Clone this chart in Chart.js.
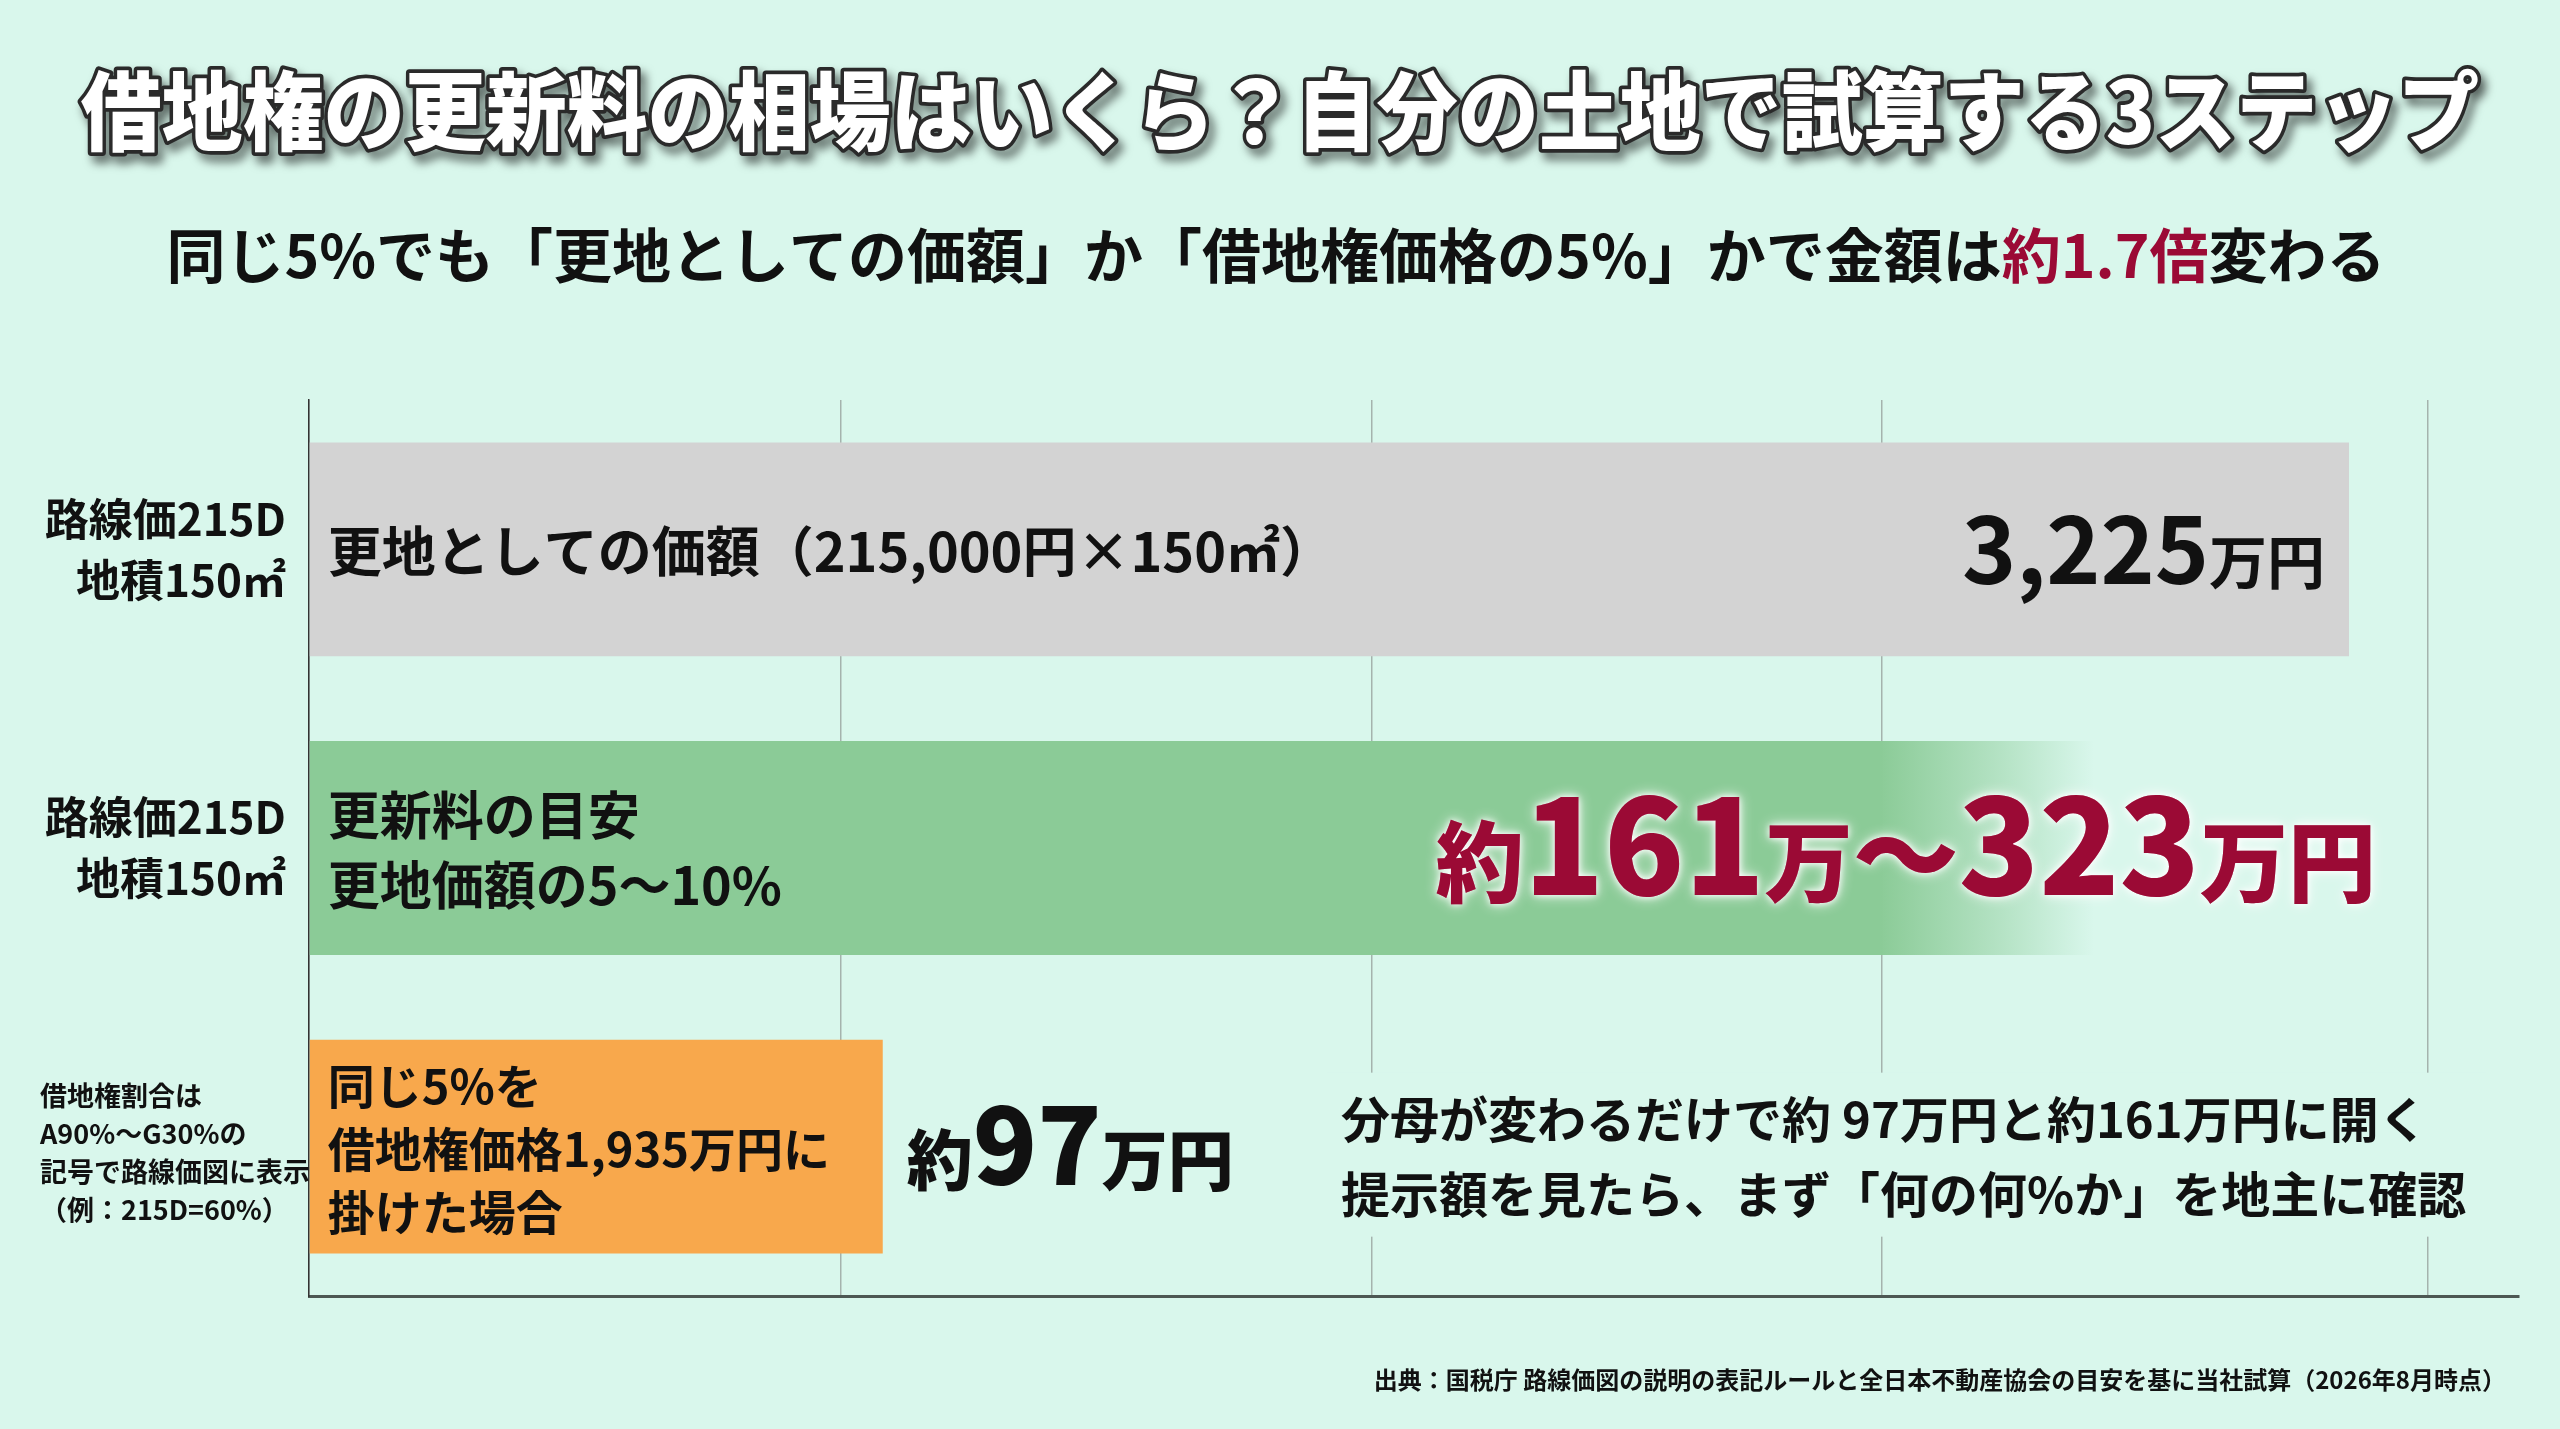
<!DOCTYPE html>
<html lang="ja">
<head>
<meta charset="UTF-8">
<title>借地権の更新料の相場はいくら？</title>
<script src="https://cdn.jsdelivr.net/npm/chart.js@4"></script>
<style>
  html, body { margin: 0; padding: 0; background: #d9f7ec; }
  #wrap { width: 2560px; height: 1429px; position: relative; }
</style>
</head>
<body>
<div id="wrap"><canvas id="chart"></canvas></div>
<script>
// ---- data ----
const titleText = '借地権の更新料の相場はいくら？自分の土地で試算する3ステップ';
const subtitleParts = ['同じ5%でも「更地としての価額」か「借地権価格の5%」かで金額は', '約1.7倍', '変わる'];
const categories = [
  ['路線価215D', '地積150㎡'],
  ['路線価215D', '地積150㎡'],
  ['借地権割合は', 'A90%〜G30%の', '記号で路線価図に表示', '（例：215D=60%）']
];
// bar lengths on the (unlabelled) horizontal scale
const barLengths = [96, 84, 27];
// positions of the vertical guide lines on that scale
const gridValues = [0, 25, 50, 74, 99.7];
const barTexts = [
  ['更地としての価額（215,000円×150㎡）'],
  ['更新料の目安', '更地価額の5〜10%'],
  ['同じ5%を', '借地権価格1,935万円に', '掛けた場合']
];
const valueTexts = ['3,225万円', '約161万〜323万円', '約97万円'];
const noteLines = ['分母が変わるだけで約 97万円と約161万円に開く', '提示額を見たら、まず「何の何%か」を地主に確認'];
const sourceText = '出典：国税庁 路線価図の説明の表記ルールと全日本不動産協会の目安を基に当社試算（2026年8月時点）';

// ---- style ----
const FF = '"Noto Sans CJK JP", "Noto Sans", sans-serif';
const BG = '#d9f7ec';
const RED = '#9b0a35';
const INK = '#111111';

function greenFill(chart) {
  const xs = chart.scales.x;
  if (!xs) return '#8bcb97';
  const x0 = xs.getPixelForValue(0);
  const x1 = xs.getPixelForValue(barLengths[1]);
  const g = chart.ctx.createLinearGradient(x0, 0, x1, 0);
  g.addColorStop(0, 'rgba(139,203,151,1)');
  g.addColorStop(0.88, 'rgba(139,203,151,1)');
  g.addColorStop(0.95, 'rgba(139,203,151,0.45)');
  g.addColorStop(1, 'rgba(139,203,151,0)');
  return g;
}

// split a value string into digit / tilde / other runs
function tokens(str) {
  return str.match(/[\d,]+|〜|[^\d,〜]+/g);
}

function drawRuns(ctx, runs, x, y, align) {
  let total = 0;
  runs.forEach(r => { ctx.font = r.font; r.w = ctx.measureText(r.t).width; total += r.w; });
  let cx = align === 'right' ? x - total : align === 'center' ? x - total / 2 : x;
  runs.forEach(r => {
    ctx.font = r.font;
    ctx.fillStyle = r.color;
    ctx.textAlign = 'left';
    ctx.fillText(r.t, cx, y);
    cx += r.w;
  });
  return total;
}

const valueStyles = [
  { digit: 92, tilde: 58, other: 58, weight: 700, color: INK },
  { digit: 132, tilde: 106, other: 88, weight: 900, color: RED },
  { digit: 106, tilde: 66, other: 66, weight: 900, color: INK }
];

const slidePlugin = {
  id: 'slide',
  beforeDraw(chart) {
    const ctx = chart.ctx;
    ctx.save();
    ctx.fillStyle = BG;
    ctx.fillRect(0, 0, chart.width, chart.height);

    // title: white with dark outline and drop shadow, slightly tall glyphs
    ctx.save();
    ctx.translate(1280, 111);
    ctx.scale(1, 1.07);
    ctx.font = `900 81px ${FF}`;
    ctx.textAlign = 'center';
    ctx.textBaseline = 'middle';
    ctx.lineJoin = 'round';
    ctx.shadowColor = 'rgba(0,0,0,0.6)';
    ctx.shadowBlur = 10;
    ctx.shadowOffsetX = 5;
    ctx.shadowOffsetY = 7;
    ctx.strokeStyle = '#2a2a2a';
    ctx.lineWidth = 7;
    ctx.strokeText(titleText, 0, 0);
    ctx.shadowColor = 'transparent';
    ctx.fillStyle = '#ffffff';
    ctx.fillText(titleText, 0, 0);
    ctx.restore();

    // subtitle
    ctx.textBaseline = 'middle';
    const f = `700 59px ${FF}`;
    drawRuns(ctx, [
      { t: subtitleParts[0], font: f, color: INK },
      { t: subtitleParts[1], font: f, color: RED },
      { t: subtitleParts[2], font: f, color: INK }
    ], 1276, 256, 'center');
    ctx.restore();
  },
  beforeDatasetsDraw(chart) {
    // plain panel behind the note so grid lines break there
    const ctx = chart.ctx;
    const area = chart.chartArea;
    const y = chart.scales.y.getPixelForTick(2);
    ctx.save();
    ctx.font = `700 49px ${FF}`;
    const w = Math.max(...noteLines.map(l => ctx.measureText(l).width));
    const x0 = area.left + 1032;
    ctx.fillStyle = BG;
    ctx.fillRect(x0 - 14, y - 74, w + 34, 164);
    ctx.restore();
  },
  afterDatasetsDraw(chart) {
    const ctx = chart.ctx;
    const area = chart.chartArea;
    const ys = chart.scales.y;
    const meta = chart.getDatasetMeta(0);
    ctx.save();
    ctx.textBaseline = 'middle';

    // category labels
    categories.forEach((lines, i) => {
      const cy = ys.getPixelForTick(i);
      ctx.fillStyle = INK;
      if (i < 2) {
        ctx.font = `700 44px ${FF}`;
        ctx.textAlign = 'right';
        lines.forEach((l, k) => ctx.fillText(l, area.left - 23, cy + (k - (lines.length - 1) / 2) * 61));
      } else {
        ctx.font = `700 27px ${FF}`;
        ctx.textAlign = 'left';
        lines.forEach((l, k) => ctx.fillText(l, 40, cy + 6 + (k - (lines.length - 1) / 2) * 38));
      }
    });

    // texts inside bars
    const inner = [{ size: 54, lh: 0 }, { size: 52, lh: 70 }, { size: 47, lh: 63 }];
    barTexts.forEach((lines, i) => {
      const bar = meta.data[i];
      ctx.font = `700 ${inner[i].size}px ${FF}`;
      ctx.textAlign = 'left';
      ctx.fillStyle = INK;
      lines.forEach((l, k) => ctx.fillText(l, bar.base + 18, bar.y + 2 + (k - (lines.length - 1) / 2) * inner[i].lh));
    });

    // value labels
    ctx.textBaseline = 'alphabetic';
    valueTexts.forEach((txt, i) => {
      const bar = meta.data[i];
      const st = valueStyles[i];
      const runs = tokens(txt).map(t => {
        const size = /\d/.test(t) ? st.digit : t === '〜' ? st.tilde : st.other;
        return { t, font: `${st.weight} ${size}px ${FF}`, color: st.color };
      });
      if (i === 0) {
        drawRuns(ctx, runs, bar.x - 24, bar.y + 35, 'right');
      } else if (i === 1) {
        ctx.save();
        ctx.shadowColor = 'rgba(255,255,255,0.95)';
        ctx.shadowBlur = 14;
        drawRuns(ctx, runs, area.right - 143, bar.y + 47, 'right');
        ctx.shadowBlur = 6;
        drawRuns(ctx, runs, area.right - 143, bar.y + 47, 'right');
        ctx.restore();
      } else {
        drawRuns(ctx, runs, bar.x + 24, bar.y + 38, 'left');
      }
    });

    // note
    ctx.textBaseline = 'middle';
    ctx.font = `700 49px ${FF}`;
    ctx.textAlign = 'left';
    ctx.fillStyle = INK;
    const ny = ys.getPixelForTick(2);
    noteLines.forEach((l, k) => ctx.fillText(l, area.left + 1032, ny - 27 + k * 75));

    // source
    ctx.font = `700 24px ${FF}`;
    ctx.textAlign = 'right';
    ctx.fillText(sourceText, 2506, 1380);
    ctx.restore();
  }
};

new Chart(document.getElementById('chart'), {
  type: 'bar',
  data: {
    labels: categories.map(c => c.join(' ')),
    datasets: [{
      data: barLengths,
      backgroundColor: c => {
        if (c.dataIndex === 1) return greenFill(c.chart);
        return ['#d3d3d3', null, '#f8a84c'][c.dataIndex];
      },
      borderWidth: 0,
      barPercentage: 0.716,
      categoryPercentage: 1
    }]
  },
  options: {
    indexAxis: 'y',
    responsive: true,
    maintainAspectRatio: false,
    animation: false,
    layout: { padding: { left: 309, right: 41, top: 400, bottom: 133 } },
    plugins: { legend: { display: false }, tooltip: { enabled: false } },
    scales: {
      x: {
        min: 0, max: 104,
        afterBuildTicks: scale => { scale.ticks = gridValues.map(v => ({ value: v })); },
        ticks: { display: false },
        grid: { color: '#a5b3ad', lineWidth: 1.5, drawTicks: false },
        border: { display: true, color: '#4d5853', width: 3 }
      },
      y: {
        ticks: { display: false },
        grid: { display: false, drawTicks: false },
        border: { display: true, color: '#333333', width: 1.5 }
      }
    }
  },
  plugins: [slidePlugin]
});
</script>
</body>
</html>
